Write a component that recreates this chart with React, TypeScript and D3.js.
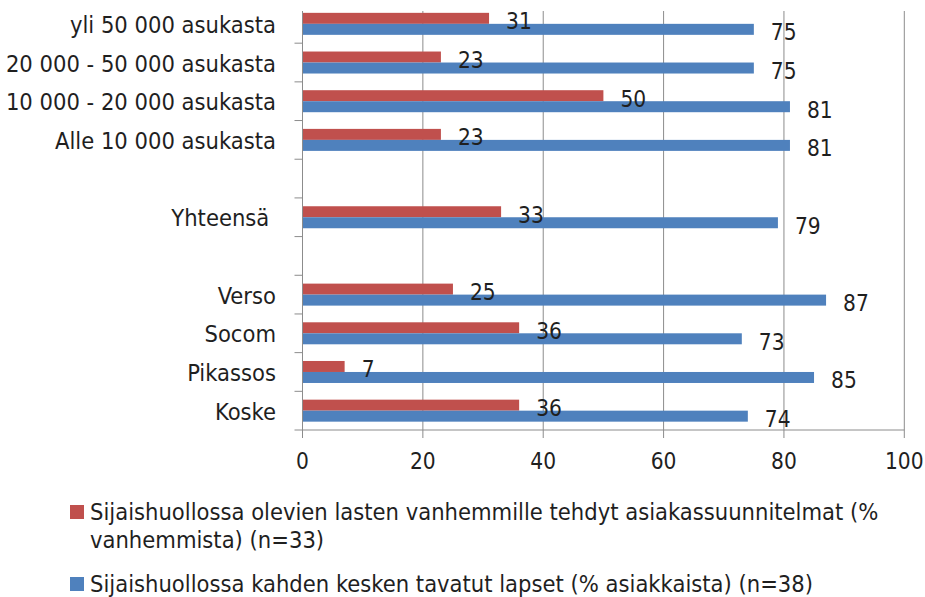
import React from 'react';
import * as d3 from 'd3';

const categories = [
  'yli 50 000 asukasta',
  '20 000 - 50 000 asukasta',
  '10 000 - 20 000 asukasta',
  'Alle 10 000 asukasta',
  '',
  'Yhteensä ',
  ' ',
  'Verso',
  'Socom',
  'Pikassos',
  'Koske'
];

// null = empty spacer row
const parentPlans: (number | null)[] = [31, 23, 50, 23, null, 33, null, 25, 36, 7, 36];
const childMeetings: (number | null)[] = [75, 75, 81, 81, null, 79, null, 87, 73, 85, 74];

const xTicks = [0, 20, 40, 60, 80, 100];

const seriesNames = [
  ['Sijaishuollossa olevien lasten vanhemmille tehdyt asiakassuunnitelmat (%', 'vanhemmista) (n=33)'],
  ['Sijaishuollossa kahden kesken tavatut lapset (% asiakkaista) (n=38)']
];

const RED = '#C0504D';
const BLUE = '#4F81BD';
const GRID = '#8c8c8c';
const TEXT = '#1f1f1f';
const FONT = '"DejaVu Sans Condensed", "Liberation Sans Narrow", "DejaVu Sans", sans-serif';

const width = 925;
const height = 597;
const plotTop = 11;
const textSize = 23.5;
const numSize = 22.5;

const App: React.FC = () => {
  const x = d3.scaleLinear().domain([0, 100]).range([302.5, 904.3]);
  const y = d3.scaleBand<string>().domain(categories).range([4.5, 430]).padding(0);
  const barH = 11;
  const inner = d3.scaleBand<string>()
    .domain(['red', 'blue'])
    .range([(y.bandwidth() - 2 * barH) / 2, (y.bandwidth() + 2 * barH) / 2]);

  const series = [
    { key: 'red', values: parentPlans, color: RED },
    { key: 'blue', values: childMeetings, color: BLUE }
  ];

  const bottom = y.range()[1];
  const boundaries = categories.map((c) => (y(c) as number) + y.bandwidth());

  return (
    <svg
      width={width}
      height={height}
      style={{ position: 'absolute', left: 0, top: 0, background: '#fff' }}
      fontFamily={FONT}
      fontStretch="condensed"
    >
      {/* gridlines */}
      {xTicks.slice(1).map((t) => (
        <line key={'g' + t} x1={x(t)} x2={x(t)} y1={plotTop} y2={bottom} stroke={GRID} strokeWidth={1} />
      ))}

      {/* bars */}
      {series.map((s) => (
        <g key={s.key}>
          {categories.map((c, i) => {
            const v = s.values[i];
            if (v == null) return null;
            const y0 = (y(c) as number) + (inner(s.key) as number);
            return <rect key={c} x={x(0)} y={y0} width={x(v) - x(0)} height={inner.bandwidth()} fill={s.color} />;
          })}
        </g>
      ))}

      {/* value labels, on top of every bar */}
      {series.map((s) => (
        <g key={'lab' + s.key}>
          {categories.map((c, i) => {
            const v = s.values[i];
            if (v == null) return null;
            const y0 = (y(c) as number) + (inner(s.key) as number);
            return (
              <text
                key={c}
                x={x(v) + 17}
                y={y0 + barH / 2 + 3}
                dominantBaseline="central"
                fontSize={numSize}
                fill={TEXT}
              >
                {v}
              </text>
            );
          })}
        </g>
      ))}

      {/* y axis */}
      <line x1={x(0)} x2={x(0)} y1={plotTop} y2={bottom} stroke={GRID} />
      {boundaries.map((b, i) => (
        <line key={'yt' + i} x1={x(0) - 8} x2={x(0)} y1={b} y2={b} stroke={GRID} />
      ))}
      {categories.map((c) => (
        <text
          key={'yl' + c}
          x={276}
          y={(y(c) as number) + y.bandwidth() / 2 + 1}
          textAnchor="end"
          dominantBaseline="central"
          fontSize={textSize}
          fill={TEXT}
          style={{ whiteSpace: 'pre' }}
        >
          {c}
        </text>
      ))}

      {/* x axis */}
      <line x1={x(0)} x2={x(100)} y1={bottom} y2={bottom} stroke={GRID} />
      {xTicks.map((t) => (
        <g key={'xt' + t}>
          <line x1={x(t)} x2={x(t)} y1={bottom} y2={bottom + 8} stroke={GRID} />
          <text x={x(t)} y={bottom + 31} textAnchor="middle" dominantBaseline="central" fontSize={numSize} fill={TEXT}>
            {t}
          </text>
        </g>
      ))}

      {/* legend */}
      {seriesNames.map((lines, i) => {
        const ly = i === 0 ? 512 : 584;
        return (
          <g key={'lg' + i}>
            <rect x={70} y={ly - 7} width={14} height={14} fill={series[i].color} />
            {lines.map((ln, j) => (
              <text key={j} x={90} y={ly + j * 28} dominantBaseline="central" fontSize={textSize} fill={TEXT}>
                {ln}
              </text>
            ))}
          </g>
        );
      })}
    </svg>
  );
};

export default App;
